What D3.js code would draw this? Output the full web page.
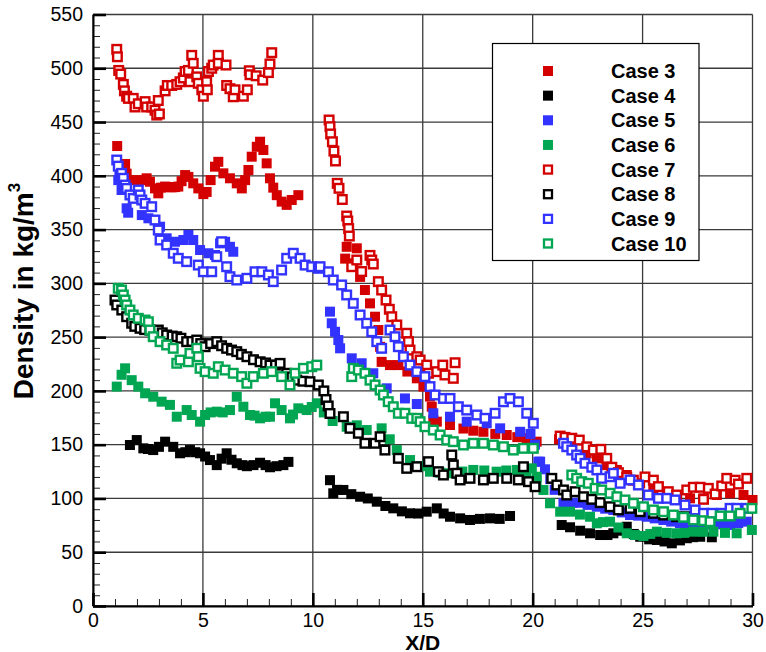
<!DOCTYPE html>
<html><head><meta charset="utf-8">
<script src="https://cdn.jsdelivr.net/npm/d3@7"></script>
<style>body{margin:0;background:#fff}svg{display:block}</style>
</head><body>
<svg id="c" width="766" height="652"></svg>
<script>
const caseNames = ["Case 3","Case 4","Case 5","Case 6","Case 7","Case 8","Case 9","Case 10"];
const caseColors = ["#d40000","#000000","#3333ff","#00a651","#d40000","#000000","#3333ff","#00a651"];
const caseFilled = [true,true,true,true,false,false,false,false];
const xTicks = [0,5,10,15,20,25,30];
const yTicks = [0,50,100,150,200,250,300,350,400,450,500,550];

const case3 = [[1.1,427.7],[1.46,411],[1.53,402],[1.83,396],[2.06,394.5],[2.25,396],[2.44,397.7],[2.59,394.5],[2.82,388.3],[2.97,383.7],[3.1,389],[3.28,390],[3.43,389.5],[3.58,389.3],[3.73,389.5],[3.88,390],[4.03,395],[4.19,400.7],[4.34,399],[4.56,393],[4.79,388.3],[5.02,383],[5.17,385],[5.35,396],[5.55,408.5],[5.7,413],[5.93,402.3],[6.23,397.7],[6.54,393],[6.77,388.3],[6.92,396],[7.07,405.4],[7.22,417.8],[7.45,427],[7.6,431.7],[7.75,424],[7.9,411.6],[8.05,397.7],[8.2,389],[8.36,382],[8.58,376],[8.81,373],[9.04,377.5],[9.34,382],
[11.47,323],[11.54,334],[11.84,318.6],[12.0,332.6],[12.15,306],[12.37,293.8],[12.6,281.4],[12.83,269],[12.98,256.6],[13.06,241],[13.13,227],[13.51,224],[13.89,224],[14.3,218],[14.73,211.7],[15.03,204],[15.33,194.7],[15.41,185.3],[15.48,173],[15.64,171.4],[16.24,168.3],[16.85,165],[17.3,163],[17.76,162],[18.3,160],[18.82,159],[19.3,157],[19.73,156],[20.18,152.8],
[21.2,155],[21.8,150],[22.46,142],[22.92,137.3],[23.37,131],[23.83,126.5],[24.28,121.8],[24.89,114],[25.49,109.4],[26.1,104.8],[26.55,101.6],[27.16,100.1],[27.77,100.1],[28.38,103.2],[28.98,104.8],[29.59,103.2],[30.0,98.6]];

const case4 = [[1.68,149.7],[1.99,154.3],[2.29,146.6],[2.5,146],[2.74,145],[3.0,148],[3.28,152.8],[3.65,148],[3.96,142],[4.2,143],[4.41,145],[4.65,143],[4.87,142],[5.1,139],[5.32,135.7],[5.63,131],[5.85,137],[6.08,142],[6.3,136],[6.54,132.7],[6.8,131],[7.0,130],[7.3,131],[7.6,133.2],[7.85,131],[8.05,129],[8.35,130],[8.66,131],[8.89,134],
[10.78,117],[10.93,104.8],[11.1,108],[11.39,107.9],[11.75,104],[12.15,101.6],[12.5,100],[12.91,97],[13.3,93],[13.66,90.8],[14.05,88],[14.42,86.2],[14.8,86],[15.18,87.7],[15.64,90.8],[15.95,86],[16.24,83],[16.7,81.5],[17.15,80],[17.6,81],[18.06,81.5],[18.5,81],[18.97,83.7],
[21.32,75.3],[21.7,73.2],[22.16,70],[22.61,67.6],[23.07,66],[23.4,66],[23.67,67.6],[24.0,70],[24.28,73.7],[24.6,67],[24.89,64.4],[25.3,62],[25.65,61.4],[26.0,60],[26.33,58.3],[26.7,61],[27.01,63],[27.3,64],[27.62,64.4],[28.15,63.9]];

const case5 = [[1.15,396],[1.2,400],[1.3,386.8],[1.53,369.8],[1.6,365.7],[2.22,363.5],[2.52,360.5],[3.05,352.7],[3.35,341.9],[3.73,338.7],[4.11,340.3],[4.34,345],[4.56,340.3],[4.87,331],[5.25,328],[5.55,326.4],[5.78,337.2],[6.01,338.7],[6.23,334],[6.38,329.4],
[10.78,273.7],[10.86,262.9],[11.01,255],[11.16,247.3],[11.24,239.6],[11.77,230.3],[12.22,225.7],[12.75,216.4],[13.36,202.4],[14.19,193],[14.73,187.8],[15.48,179.2],[16.24,176],[17.0,171.4],[17.91,169.9],[18.52,165.2],[19.43,162],[19.9,160],[20.1,150],[20.26,134.2],
[20.34,134.2],[20.56,127.1],[20.8,118],[21.0,108],[21.4,95.5],[21.8,96],[22.16,96],[22.5,94],[22.92,92.3],[23.3,90.5],[23.67,89.3],[24.05,87],[24.43,84.6],[24.8,84],[25.19,83],[25.55,81.5],[25.95,80],[26.3,78.5],[26.7,76.9],[27.1,76],[27.47,75.3],[27.85,76],[28.22,76.9],[28.6,76],[28.98,75.3],[29.35,77],[29.74,78.4]];

const case6 = [[1.08,204],[1.3,215],[1.46,221],[1.76,210],[2.06,204],[2.37,197.8],[2.74,194.6],[3.12,190],[3.5,187],[3.81,176],[4.26,182.2],[4.49,177.6],[4.87,171.4],[5.1,177.6],[5.35,180],[5.63,180.7],[5.9,180],[6.23,182.2],[6.54,194.6],[6.84,185.3],[7.14,177.6],[7.35,177],[7.6,174.5],[7.85,176],[8.05,176],[8.28,188.5],[8.58,182.2],[8.96,174.5],[9.1,178],[9.34,183.8],[9.72,182.2],[9.95,185],[10.18,188.5],
[10.5,180],[10.9,172],[11.54,166.7],[12.0,168],[12.45,163.6],[13.13,165.2],[13.5,155],[13.82,145],[14.42,135.7],[14.9,130],[15.33,124.9],[15.8,124],[16.24,123.4],[16.8,125],[17.3,126.5],[17.8,126],[18.36,124.9],[18.8,126],[19.28,126.5],[19.7,124],[19.96,128],[20.18,120.2],
[20.18,117],[20.49,107.9],[20.79,95.5],[21.25,87.7],[21.7,87.7],[22.15,85],[22.61,83],[22.92,76.9],[23.2,78],[23.52,78.4],[23.9,73],[24.28,67.6],[24.65,66],[25.04,65.1],[25.35,67],[25.65,69.1],[26.1,68],[26.55,67.6],[26.9,68],[27.31,69.1],[27.75,69],[28.22,69.1],[28.75,68],[29.28,67.6],[29.97,70.7]];

const case7 = [[1.08,517.6],[1.11,510.7],[1.17,498],[1.26,494.6],[1.38,485],[1.43,479],[1.53,474],[1.61,472],[1.83,472],[1.91,464],[2.06,467],[2.37,469],[2.44,464],[2.67,464],[2.82,461],[2.9,456.5],[3.02,457.5],[2.97,470],[3.28,479],[3.38,484],[3.58,484],[3.81,485],[3.96,487.5],[4.11,491],[4.19,497],[4.34,498],[4.49,512],[4.56,504.6],[4.41,487.5],[4.72,492],[4.79,486],[4.95,480],[5.02,474],[5.17,487.5],[5.2,480],[5.25,497],[5.4,500],[5.47,503],[5.7,512],[5.7,504.6],[6.05,503],[6.08,484],[6.23,481],[6.38,473.5],[6.46,480],[6.84,474],[7.02,480],[7.11,497.7],[7.14,494],[7.42,493],[7.72,489],[7.98,496],[8.05,504],[8.13,514.5],
[10.74,451.9],[10.78,445.7],[10.81,438.9],[10.89,431.7],[10.96,423],[11.03,413.8],[11.11,393],[11.19,388.4],[11.34,378],[11.54,362.6],[11.59,358],[11.63,351],[11.66,344],[11.77,315.5],[12.0,321.7],[12.22,311],[12.6,326],[12.68,321.7],[12.75,318],[12.98,301.6],[13.13,293.8],[13.33,284.5],[13.48,275.9],[13.59,269],[13.82,261.3],[14.27,253.6],[14.35,245.8],[14.42,238],[14.73,231.8],[14.88,228.7],[15.18,224],[15.26,216.4],[15.64,217.9],[15.91,224],[16.01,214.8],[16.39,211.7],[16.47,226.2],
[21.25,158],[21.47,156.8],[21.78,156],[22.12,154.3],[22.46,148],[22.76,145],[23.1,145.7],[23.37,137.3],[23.6,129],[23.9,124],[24.28,119.7],[24.58,117],[25.11,120],[25.49,117],[25.72,111],[26.17,106.3],[26.55,103.2],[27.01,107.9],[27.31,110.4],[27.62,110.4],[27.77,99.2],[27.99,109.4],[28.3,104.1],[28.6,111.6],[28.83,118.7],[29.21,117],[29.36,113.4],[29.74,118.7]];

const case8 = [[1.0,284.5],[1.08,279.9],[1.31,275.2],[1.53,269],[1.76,262.9],[1.9,260],[2.14,258.2],[2.35,257],[2.59,256.6],[2.8,256],[2.97,256.6],[3.15,254],[3.35,252],[3.6,251],[3.81,250.4],[4.0,249],[4.26,245.8],[4.5,246],[4.72,247.3],[4.9,244],[5.1,241.1],[5.35,244],[5.63,245.8],[5.85,242],[6.08,239.6],[6.3,238],[6.54,236.5],[6.75,234],[7.0,231.8],[7.3,229],[7.6,227.1],[7.85,226],[8.05,224],[8.3,224],[8.51,225.6],[8.81,216.4],[9.05,213],[9.27,210],[9.55,209],[9.87,208.6],[10.25,205.5],[10.5,200],[10.6,192],[10.7,186],
[10.78,179],[11.39,176],[11.69,165.2],[12.07,160.6],[12.37,151.3],[12.83,151.3],[13.06,157.4],[13.28,145],[13.89,137.3],[14.27,128],[14.73,129.5],[15.26,134.2],[15.71,124.9],[15.94,121.8],[16.32,140.4],[16.39,131.1],[16.55,123.4],[16.7,117.2],[17.15,118.7],[17.76,117.2],[18.21,118.7],[18.82,118.7],[19.35,117.2],[19.58,129.5],[19.81,115.6],[20.11,110.9],
[20.87,118.7],[21.1,112.5],[21.4,107.9],[21.55,103.2],[21.93,106.3],[22.31,101.6],[22.69,99.2],[23.07,96.1],[23.52,92.3],[23.9,89.3],[24.43,90.8],[24.89,87.7],[25.49,86.2],[25.95,84.6],[26.55,83],[27.01,83]];

const case9 = [[1.08,414.7],[1.15,409],[1.3,402.3],[1.38,397.7],[1.46,391.4],[1.53,388.3],[1.68,382.2],[1.83,379],[2.06,386.8],[2.14,382.2],[2.22,377.5],[2.37,374.4],[2.67,371.3],[2.82,358.9],[2.97,349.6],[3.05,340.3],[3.35,335.7],[3.65,328],[3.88,323.3],[4.26,320.2],[4.79,317],[5.02,310.8],[5.4,310.8],[5.63,324.8],[5.85,338.7],[6.08,315.5],[6.23,306.2],[6.54,303.1],[7.0,304.7],[7.37,310.8],[7.68,310.8],[7.98,307.8],[8.2,301.6],[8.58,312.4],[8.81,323.3],[9.11,328],[9.42,323.3],[9.65,317],[9.95,315.5],[10.25,314],
[10.33,315.5],[10.71,310.8],[10.93,303.1],[11.31,298.5],[11.54,289.2],[11.84,281.4],[12.15,270.6],[12.45,262.9],[12.68,255],[12.91,245.8],[13.13,239.6],[13.51,256.6],[13.74,250.4],[13.89,241.1],[14.12,231.8],[14.42,224],[14.73,217.9],[15.1,213.3],[15.33,204],[15.56,196.2],[15.94,193],[16.24,193],[16.62,185.3],[17.0,182.2],[17.46,177.6],[17.83,174.5],[18.29,179.2],[18.67,189.9],[18.97,193],[19.35,189.9],[19.73,179.2],[20.03,169.9],
[21.4,151.3],[21.55,148.1],[21.78,145],[22.0,140.4],[22.16,137.3],[22.38,132.7],[22.69,129],[22.92,126.5],[23.14,118.7],[23.52,120.2],[23.67,123.4],[23.98,114.1],[24.43,117.2],[24.81,112.5],[25.26,103.2],[25.72,100.1],[26.1,100.1],[26.48,98.6],[26.93,93.9],[27.39,89.3],[27.77,86.2],[28.15,86.2],[28.6,86.2],[28.98,90.8],[29.28,90.8],[29.74,90.8]];

const case10 = [[1.15,295.4],[1.3,293.8],[1.38,289.2],[1.46,284.5],[1.53,279.9],[1.68,275.2],[1.83,270.6],[2.06,267.5],[2.37,265.9],[2.52,264.3],[2.59,256.6],[2.74,250.4],[3.05,245.8],[3.35,242.7],[3.65,239.6],[3.81,225.7],[3.96,228.7],[4.34,227.1],[4.41,234.9],[4.72,239.6],[4.79,231.8],[4.87,221],[5.1,217.9],[5.47,216.4],[5.7,222.5],[6.01,219.4],[6.38,216.4],[6.76,213.3],[7.0,207.1],[7.29,213.3],[7.75,216.4],[8.13,217.9],[8.58,213.3],[8.96,205.5],[9.19,216.4],[9.57,221],[9.95,222.5],[10.18,224],
[11.77,213.3],[11.84,221],[12.07,219.4],[12.37,216.4],[12.6,210],[12.83,205.5],[13.06,200.8],[13.21,196.2],[13.43,190],[13.66,185.3],[13.89,179.2],[14.19,179.2],[14.5,174.5],[14.73,174.5],[14.88,171.4],[15.1,166.7],[15.48,163.6],[15.79,159],[16.09,154.3],[16.39,152.8],[16.85,149.7],[17.3,151.3],[17.76,151.3],[18.21,149.7],[18.67,148.1],[19.12,145],[19.58,146.6],[20.03,146.6],
[21.78,121.8],[22.0,118.7],[22.23,115.6],[22.53,114.1],[22.84,109.4],[23.14,107.9],[23.52,104.8],[23.83,101.6],[24.2,98.6],[24.58,95.5],[25.04,92.3],[25.49,89.3],[25.95,87.7],[26.4,84.6],[26.86,82.5],[27.31,80],[27.77,79.3],[28.07,78.4],[28.53,83.7],[28.98,83.7],[29.44,86.2],[29.97,90.8]];

const caseData = [case3,case4,case5,case6,case7,case8,case9,case10];

const svg = d3.select("#c");
const x = d3.scaleLinear().domain([0,30]).range([93,752.5]);
const y = d3.scaleLinear().domain([0,550]).range([606,14.5]);
const FONT = "'Liberation Sans', Arial, Helvetica, sans-serif";

svg.append("rect").attr("width",766).attr("height",652).attr("fill","#fff");

// grid
const grid = svg.append("g").attr("stroke","#3a3a3a").attr("stroke-width",1.3);
grid.selectAll(".gx").data(xTicks).join("line")
  .attr("x1",d=>x(d)).attr("x2",d=>x(d)).attr("y1",y(0)).attr("y2",y(550));
grid.selectAll(".gy").data(yTicks).join("line")
  .attr("x1",x(0)).attr("x2",x(30)).attr("y1",d=>y(d)).attr("y2",d=>y(d));

// minor ticks
const minX = svg.append("g").attr("transform",`translate(0,${y(0)})`)
  .call(d3.axisBottom(x).tickValues(d3.range(0,31,1)).tickSize(-7).tickSizeOuter(0).tickFormat(""));
const minY = svg.append("g").attr("transform",`translate(${x(0)},0)`)
  .call(d3.axisLeft(y).tickValues(d3.range(0,551,10)).tickSize(-7).tickSizeOuter(0).tickFormat(""));
[minX,minY].forEach(g=>{g.select(".domain").remove();g.selectAll("line").attr("stroke","#222").attr("stroke-width",1);});

// major axes
const ax = svg.append("g").attr("transform",`translate(0,${y(0)})`)
  .call(d3.axisBottom(x).tickValues(xTicks).tickSize(-13).tickSizeOuter(0).tickPadding(7));
const ay = svg.append("g").attr("transform",`translate(${x(0)},0)`)
  .call(d3.axisLeft(y).tickValues(yTicks).tickSize(-13).tickSizeOuter(0).tickPadding(10));
[ax,ay].forEach(g=>{
  g.select(".domain").attr("stroke","#000").attr("stroke-width",2);
  g.selectAll(".tick line").attr("stroke","#000").attr("stroke-width",2.6);
  g.selectAll("text").attr("font-family",FONT).attr("font-size",19.5).attr("fill","#000");
});

// series
caseData.forEach((data,i)=>{
  const filled = caseFilled[i];
  const col = caseColors[i];
  const s = filled ? 10 : 8.6;
  svg.append("g").selectAll("rect").data(data).join("rect")
    .attr("x",d=>x(d[0])-s/2).attr("y",d=>y(d[1])-s/2)
    .attr("width",s).attr("height",s)
    .attr("fill",filled?col:"#fff")
    .attr("stroke",filled?"none":col)
    .attr("stroke-width",filled?0:2.4);
});

// legend
const lg = svg.append("g");
lg.append("rect").attr("x",492.5).attr("y",43.5).attr("width",206.5).attr("height",217)
  .attr("fill","#fff").attr("stroke","#000").attr("stroke-width",1.2);
const rowY = d3.scaleLinear().domain([0,7]).range([71,243.5]);
caseNames.forEach((name,i)=>{
  const cy = rowY(i);
  const filled = caseFilled[i], col = caseColors[i];
  const s = filled ? 10 : 8;
  lg.append("rect").attr("x",548-s/2).attr("y",cy-s/2).attr("width",s).attr("height",s)
    .attr("fill",filled?col:"#fff").attr("stroke",filled?"none":col).attr("stroke-width",filled?0:2.3);
  lg.append("text").attr("x",611).attr("y",cy+7.2).text(name)
    .attr("font-family",FONT).attr("font-weight","bold").attr("font-size",20).attr("fill","#000");
});

// axis titles
svg.append("text").attr("x",(x(0)+x(30))/2).attr("y",649.5).attr("text-anchor","middle")
  .attr("font-family",FONT).attr("font-weight","bold").attr("font-size",21).text("X/D");
const yt = svg.append("text").attr("transform",`translate(33,291) rotate(-90)`)
  .attr("text-anchor","middle").attr("font-family",FONT).attr("font-weight","bold").attr("font-size",28);
yt.append("tspan").text("Density in kg/m");
yt.append("tspan").attr("dy",-13).attr("font-size",17).text("3");
</script>
</body></html>
